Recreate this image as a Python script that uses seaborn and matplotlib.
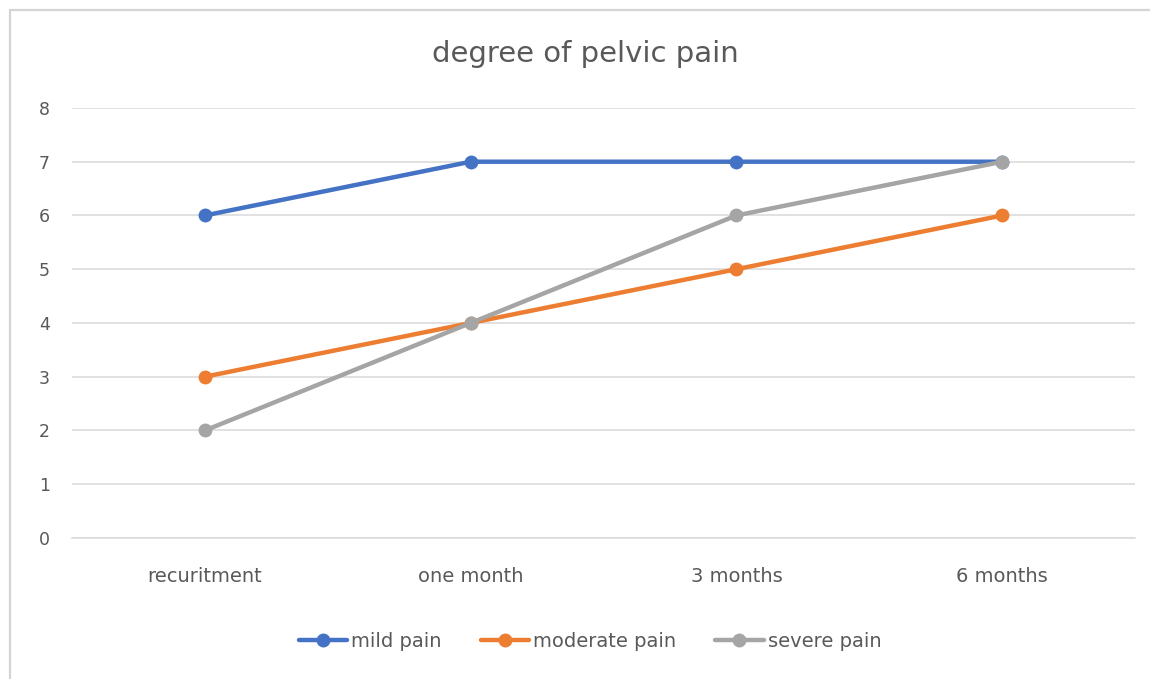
import matplotlib
matplotlib.use("Agg")
import matplotlib.pyplot as plt
from matplotlib.lines import Line2D
import seaborn as sns
import pandas as pd

# Follow-up time points and pain-degree counts per series
time_points = ["recuritment", "one month", "3 months", "6 months"]
mild_pain = [6, 7, 7, 7]
moderate_pain = [3, 4, 5, 6]
severe_pain = [2, 4, 6, 7]
series_names = ["mild pain", "moderate pain", "severe pain"]
y_ticks = [0, 1, 2, 3, 4, 5, 6, 7, 8]

palette = ["#4472C4", "#ED7D31", "#A5A5A5"]

df = pd.DataFrame({
    "time": time_points * 3,
    "value": mild_pain + moderate_pain + severe_pain,
    "series": [series_names[0]] * 4 + [series_names[1]] * 4 + [series_names[2]] * 4,
})

sns.set_theme(style="white")
plt.rcParams["font.family"] = ["DejaVu Sans"]

fig = plt.figure(figsize=(11.5, 6.79), dpi=100)
ax = fig.add_axes([0.0626, 0.2077, 0.9244, 0.6333])

sns.lineplot(data=df, x="time", y="value", hue="series", palette=palette,
             marker="o", markersize=10, markeredgewidth=0, linewidth=3.2,
             sort=False, ax=ax, legend=False)

ax.set_xlim(-0.5, len(time_points) - 0.5)
ax.set_ylim(0, 8)
ax.set_yticks(y_ticks)
ax.yaxis.grid(True, color="#D9D9D9", linewidth=1.1)
ax.set_axisbelow(True)
for s in ax.spines.values():
    s.set_visible(False)
ax.spines["bottom"].set_visible(True)
ax.spines["bottom"].set_color("#D9D9D9")
ax.spines["bottom"].set_linewidth(1.1)
ax.set_xlabel("")
ax.set_ylabel("")
ax.tick_params(axis="x", length=0, labelsize=14, labelcolor="#595959", pad=21)
ax.tick_params(axis="y", length=0, labelsize=12.5, labelcolor="#595959", pad=16)

fig.text(0.509, 0.92, "degree of pelvic pain", ha="center", va="center",
         fontsize=21, color="#595959")

handles = [Line2D([0], [0], color=c, linewidth=3.2, marker="o", markersize=10,
                  markeredgewidth=0) for c in palette]
fig.legend(handles, series_names, loc="center", bbox_to_anchor=(0.513, 0.055),
           ncol=3, frameon=False, fontsize=14, labelcolor="#595959",
           handlelength=2.5, handletextpad=0.2, columnspacing=2.0)

# Light frame on the top and left edges
fig.add_artist(Line2D([10 / 1150, 1.0], [1 - 10 / 679, 1 - 10 / 679],
                      transform=fig.transFigure, color="#D4D4D4", linewidth=1.6))
fig.add_artist(Line2D([10 / 1150, 10 / 1150], [0, 1 - 10 / 679],
                      transform=fig.transFigure, color="#D4D4D4", linewidth=1.6))

fig.savefig("out.png", dpi=100, facecolor="white")
